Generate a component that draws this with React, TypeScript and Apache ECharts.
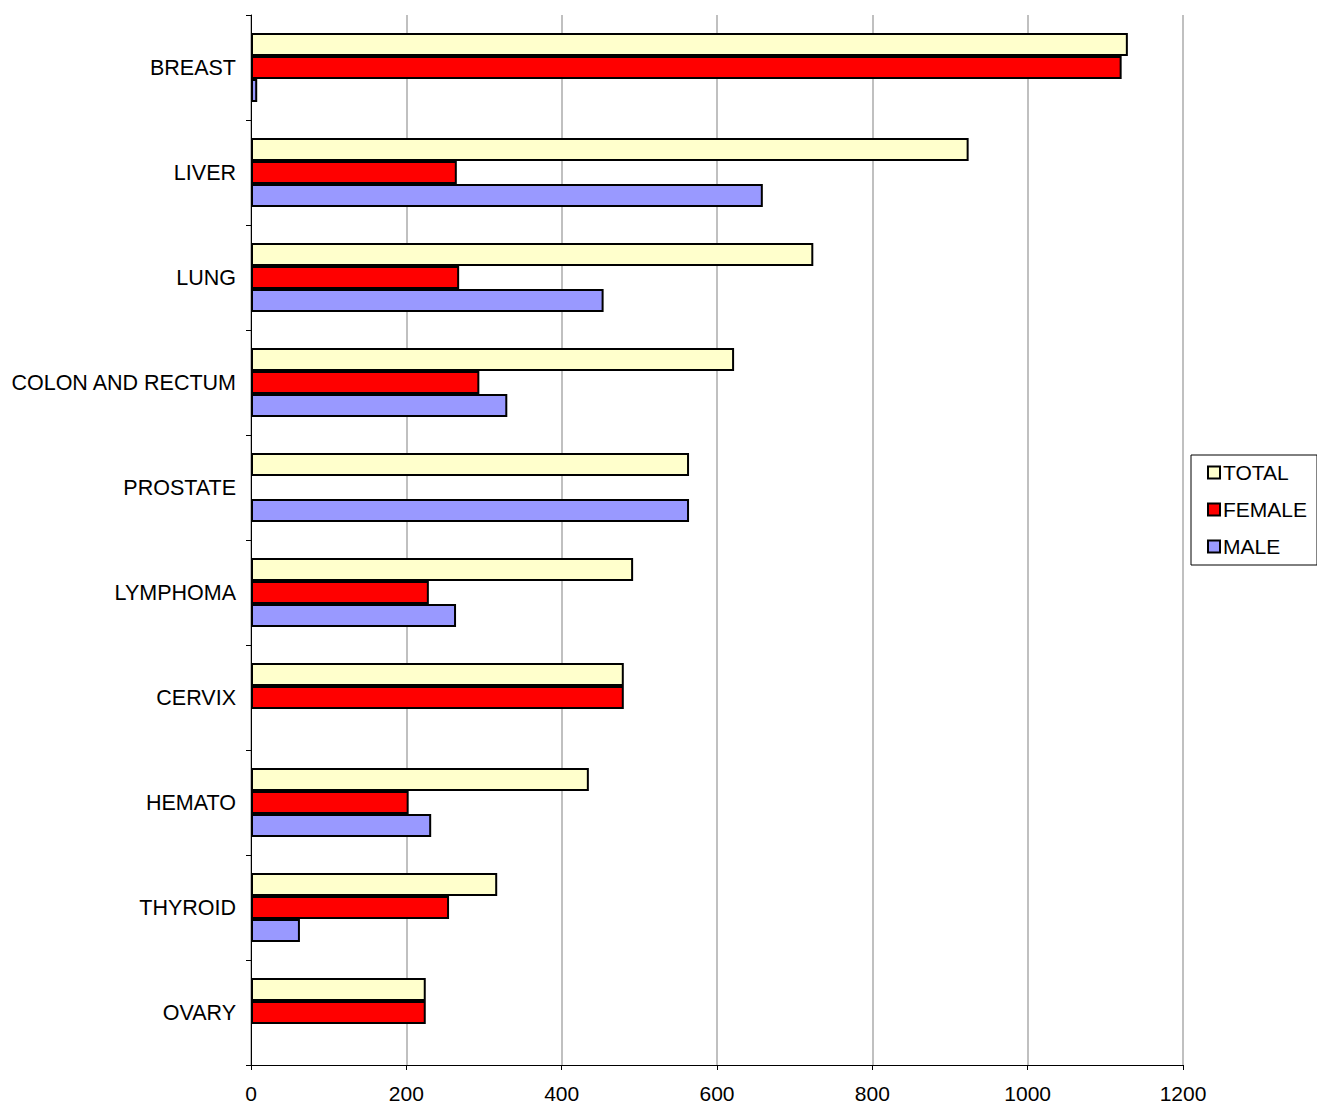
import React, { useEffect, useRef } from "react";
import * as echarts from "echarts";

const categories = ["BREAST","LIVER","LUNG","COLON AND RECTUM","PROSTATE","LYMPHOMA","CERVIX","HEMATO","THYROID","OVARY"];
const total = [1129,924,724,622,564,492,480,435,317,225];
const female = [1121,265,268,294,0,229,480,203,255,225];
const male = [8,659,454,330,564,264,0,232,63,0];
const xTicks = [0,200,400,600,800,1000,1200];

export default function App() {
  const ref = useRef<HTMLDivElement>(null);
  useEffect(() => {
    const chart = echarts.init(ref.current!, null, { renderer: "svg" });
    const mk = (name: string, data: number[], color: string) => ({
      name, type: "bar", data: data.map(v => (v === 0 ? null : v)), barWidth: 23, barGap: "0%",
      itemStyle: { color, borderColor: "#000", borderWidth: 2 },
    });
    const font = "Liberation Sans, Arial, sans-serif";
    chart.setOption({
      animation: false,
      textStyle: { fontFamily: font },
      grid: { left: 251, right: 142, top: 15, bottom: 44 },
      legend: {
        orient: "vertical", left: 1191, top: 455, itemWidth: 12, itemHeight: 12, itemGap: 16, icon: "rect",
        borderColor: "#000", borderWidth: 1, padding: [7, 10, 8, 16],
        textStyle: { fontSize: 21, color: "#000", fontFamily: font, padding: [0, 0, 0, -2] },
        itemStyle: { borderColor: "#000", borderWidth: 2 },
        data: ["TOTAL", "FEMALE", "MALE"],
      },
      xAxis: {
        type: "value", min: 0, max: 1200, interval: 200,
        axisLine: { show: true, lineStyle: { color: "#000" } },
        axisTick: { show: true, lineStyle: { color: "#000" } },
        axisLabel: { fontSize: 21, color: "#000", margin: 18, formatter: (v: number) => xTicks.includes(v) ? String(v) : "" },
        splitLine: { show: true, lineStyle: { color: "#c0c0c0", width: 2 } },
      },
      yAxis: {
        type: "category", data: categories, inverse: true,
        axisLine: { show: true, lineStyle: { color: "#000" } },
        axisTick: { show: true, length: 5, lineStyle: { color: "#000" } },
        axisLabel: { fontSize: 21.5, color: "#000", margin: 15 },
      },
      series: [mk("TOTAL", total, "#ffffcc"), mk("FEMALE", female, "#ff0000"), mk("MALE", male, "#9999ff")],
    });
    return () => chart.dispose();
  }, []);
  return <div ref={ref} style={{ width: 1325, height: 1109, margin: -8 }} />;
}
